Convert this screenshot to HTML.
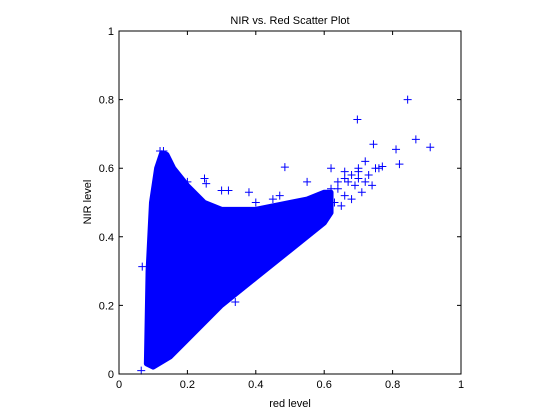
<!DOCTYPE html>
<html><head><meta charset="utf-8"><style>body{margin:0;background:#fff}svg{display:block}text{font-family:"Liberation Sans",sans-serif}</style></head>
<body>
<svg id="chart" width="560" height="420" xmlns="http://www.w3.org/2000/svg"></svg>
<script>
const xTicks=[0,0.2,0.4,0.6,0.8,1];
const yTicks=[0,0.2,0.4,0.6,0.8,1];
const envRed=[0.08,0.085,0.095,0.11,0.125,0.14,0.16,0.2,0.25,0.3,0.4,0.5,0.55,0.6,0.62];
const envHigh=[0.03,0.3,0.5,0.6,0.645,0.64,0.6,0.55,0.5,0.48,0.48,0.5,0.51,0.53,0.53];
const lowRed=[0.62,0.6,0.5,0.4,0.3,0.2,0.15,0.1,0.08];
const envLow=[0.47,0.44,0.36,0.28,0.2,0.1,0.05,0.02,0.03];
const ptRed=[0.844,0.697,0.868,0.91,0.485,0.744,0.81,0.82,0.77,0.065,0.068,0.25,0.3,0.32,0.38,0.35,0.34,0.12,0.13,0.2,0.255,0.47,0.55,0.62,0.66,0.7,0.72,0.75,0.4,0.45,0.56,0.6,0.62,0.64,0.66,0.68,0.7,0.63,0.66,0.69,0.72,0.64,0.67,0.7,0.73,0.76,0.65,0.68,0.71,0.74,0.61];
const ptNir=[0.80,0.742,0.684,0.661,0.603,0.67,0.655,0.612,0.605,0.01,0.313,0.57,0.535,0.535,0.53,0.295,0.21,0.65,0.65,0.56,0.555,0.52,0.56,0.6,0.59,0.6,0.62,0.6,0.5,0.51,0.46,0.52,0.54,0.56,0.57,0.58,0.59,0.5,0.52,0.55,0.56,0.54,0.56,0.57,0.58,0.6,0.49,0.51,0.53,0.55,0.48];
const NS="http://www.w3.org/2000/svg",svg=document.getElementById('chart');
const L=119,R=461,T=31,B=374;
const sx=v=>L+v*(R-L), sy=v=>B-v*(B-T);
function mk(t,a){const e=document.createElementNS(NS,t);for(const k in a)e.setAttribute(k,a[k]);svg.appendChild(e);return e;}
let bg=mk('rect',{x:L,y:T,width:R-L,height:B-T,fill:'#fff'});


let pts=envRed.map((r,i)=>sx(r)+','+sy(envHigh[i])).concat(lowRed.map((r,i)=>sx(r)+','+sy(envLow[i])));
let poly=mk('polygon',{points:pts.join(' '),fill:'#0000ff',stroke:'#0000ff','stroke-width':5,'stroke-linejoin':'round'});


ptRed.forEach((r,i)=>{const x=sx(r),y=sy(ptNir[i]);
 let p=mk('path',{d:`M${x-4},${y}H${x+4}M${x},${y-4}V${y+4}`,stroke:'#0000ff','stroke-width':1});
 
 });
let box=mk('rect',{x:L,y:T,width:R-L,height:B-T,fill:'none',stroke:'#000','stroke-width':1});


xTicks.forEach(v=>{const x=sx(v);
 mk('path',{d:`M${x},${B}v-4M${x},${T}v4`,stroke:'#000'});
 let t=mk('text',{x:x,y:B+14,'font-size':11,'text-anchor':'middle'});t.textContent=v;
 
 });
yTicks.forEach(v=>{const y=sy(v);
 mk('path',{d:`M${L},${y}h4M${R},${y}h-4`,stroke:'#000'});
 let t=mk('text',{x:L-5,y:y+4,'font-size':11,'text-anchor':'end'});t.textContent=v;
 
 });
let tt=mk('text',{x:290,y:24,'font-size':11,'text-anchor':'middle'});tt.textContent='NIR vs. Red Scatter Plot';


let xl=mk('text',{x:290,y:407,'font-size':11,'text-anchor':'middle'});xl.textContent='red level';


let yl=mk('text',{x:0,y:0,'font-size':11,'text-anchor':'middle',transform:'translate(91,202) rotate(-90)'});yl.textContent='NIR level';


</script>
</body></html>
